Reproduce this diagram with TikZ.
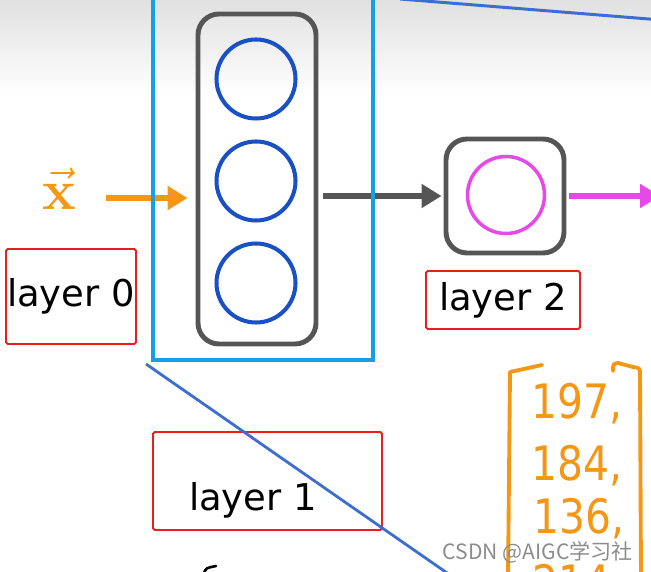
\documentclass[tikz,border=0pt]{standalone}
\usepackage[no-math]{fontspec}
\setmainfont{DejaVu Sans}
\newfontfamily\cjk{Noto Sans CJK SC}
\usetikzlibrary{arrows.meta}
\definecolor{boxblue}{RGB}{20,160,232}
\definecolor{cellblue}{RGB}{25,80,195}
\definecolor{linkblue}{RGB}{60,110,210}
\definecolor{unitgray}{RGB}{85,85,85}
\definecolor{outpink}{RGB}{232,72,232}
\definecolor{inorange}{RGB}{245,150,20}
\definecolor{markred}{RGB}{235,30,30}
\begin{document}
\begin{tikzpicture}[
  unit/.style={draw=unitgray,line width=2.8pt,rounded corners=0.42cm,inner sep=0pt},
  neuron/.style={circle,draw=cellblue,line width=2.3pt,minimum size=1.58cm,inner sep=0pt},
  flow/.style={line width=3.4pt,-{Triangle[length=0.4cm,width=0.46cm]}},
  redtag/.style={draw=markred,line width=1.1pt,rounded corners=1pt,inner sep=0pt},
  layertext/.style={font=\fontsize{21}{25}\selectfont},
  hand/.style={text=inorange,font=\fontsize{27}{30}\selectfont,anchor=base west,inner sep=0pt,xscale=0.86}
]
\useasboundingbox (0,0) rectangle (13.02,-11.44);
\clip (0,0) rectangle (13.02,-11.44);
\shade[top color=black!12,bottom color=white] (0,0) rectangle (13.02,-1.9);

\node[unit,minimum width=2.36cm,minimum height=6.6cm] (hidden) at (5.14,-3.58) {};
\node[neuron] (h1) at (5.12,-1.58) {};
\node[neuron] (h2) at (5.12,-3.62) {};
\node[neuron] (h3) at (5.12,-5.66) {};

\node[unit,minimum width=2.36cm,minimum height=2.28cm] (out) at (10.1,-3.92) {};
\node[circle,draw=outpink,line width=2pt,minimum size=1.54cm,inner sep=0pt] (o1) at (10.12,-3.9) {};

\node[text=inorange,font=\fontsize{24}{28}\selectfont,scale=1.3,transform shape] (x) at (1.18,-3.78) {$\vec{\mathbf{x}}$};
\coordinate (xin) at (2.12,-3.96);
\coordinate (yout) at (13.2,-3.92);

\draw[flow,inorange,shorten >=0.16cm] (xin) -- (xin -| hidden.west);
\draw[flow,unitgray,shorten <=0.1cm,shorten >=0.04cm] (hidden.east |- out.west) -- (out.west);
\draw[flow,outpink,shorten <=0.06cm] (out.east) -- (yout);

\draw[boxblue,line width=2.3pt] (3.06,0.3) rectangle (7.46,-7.2);

\node[redtag,minimum width=2.6cm,minimum height=1.9cm,layertext] (l0) at (1.42,-5.93) {layer 0};
\node[redtag,minimum width=3.08cm,minimum height=1.16cm,layertext] (l2) at (10.06,-6.0) {layer 2};
\node[redtag,minimum width=4.58cm,minimum height=1.96cm] (l1box) at (5.35,-9.62) {};
\node[layertext] (l1) at (5.06,-10.0) {layer 1};

\draw[linkblue,line width=1.6pt] (2.92,-7.28) -- (9.0,-11.5);
\draw[linkblue,line width=1.7pt] (8.0,0.02) -- (13.1,-0.39);

\draw[inorange,line width=2.2pt,line cap=round,line join=round] (10.84,-7.3) -- (10.2,-7.44) -- (10.16,-11.6);
\draw[inorange,line width=2.2pt,line cap=round,line join=round] (12.26,-7.42) .. controls (12.26,-7.28) .. (12.36,-7.26) -- (12.66,-7.34) .. controls (12.8,-7.36) .. (12.8,-7.5) -- (12.82,-11.6);
\node[hand] (n1) at (10.62,-8.36) {197,};
\node[hand] (n2) at (10.62,-9.6) {184,};
\node[hand] (n3) at (10.66,-10.66) {136,};
\node[hand] (n4) at (10.64,-11.98) {214};

\draw[line width=1.5pt,line cap=round] (4.08,-11.46) .. controls (4.12,-11.36) .. (4.32,-11.32);

\node[text=black!45,font=\cjk\fontsize{12}{14}\selectfont] (wm) at (10.76,-11.04) {CSDN @AIGC学习社};
\end{tikzpicture}
\end{document}
